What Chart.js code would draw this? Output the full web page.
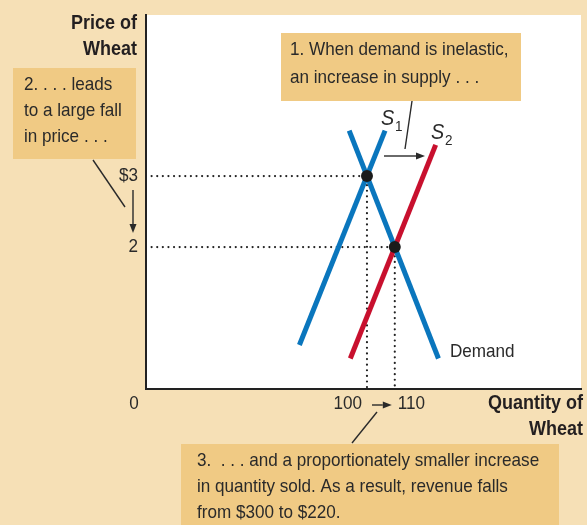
<!DOCTYPE html>
<html><head><meta charset="utf-8">
<script src="https://cdn.jsdelivr.net/npm/chart.js@4"></script>
<style>html,body{margin:0;padding:0;background:#f6e0b6;}#wrap{width:587px;height:525px;position:relative}</style>
</head><body><div id="wrap"><canvas id="c" width="587" height="525"></canvas></div>
<script>
// ---- data ----
const supply1Qty = [75.7, 106.5];
const supply1Price = [0.62, 3.64];
const supply2Qty = [94.0, 124.7];
const supply2Price = [0.43, 3.44];
const demandQty = [93.6, 125.7];
const demandPrice = [3.64, 0.43];
const equilibriumQty = [100, 110];
const equilibriumPrice = [3, 2];
const qtyTicks = [100, 110];
const qtyTickLabels = ['100', '110'];
const priceTicks = [3, 2];
const priceTickLabels = ['$3', '2'];
const originLabel = '0';

const X_MIN = 20.54, X_MAX = 176.96, Y_MIN = 0, Y_MAX = 5.27;

const pts = (xs, ys) => xs.map((x, i) => ({x: x, y: ys[i]}));
const guide = (q, p) => [{x: X_MIN, y: p}, {x: q, y: p}, {x: q, y: Y_MIN}];

const BLUE = '#0a76bd', RED = '#c8102e', INK = '#2a2a2a';
const FONT = '"Liberation Sans", Arial, sans-serif';
const SX = 0.9;

function txt(ctx, s, x, y, size, align, bold, color) {
  ctx.save();
  ctx.font = (bold ? 'bold ' : '') + size + 'px ' + FONT;
  ctx.fillStyle = color || INK;
  ctx.textBaseline = 'middle';
  const w = ctx.measureText(s).width * SX;
  let x0 = x;
  if (align === 'right') x0 = x - w; else if (align === 'center') x0 = x - w / 2;
  ctx.translate(x0, y);
  ctx.scale(SX, 1);
  ctx.textAlign = 'left';
  ctx.fillText(s, 0, 0);
  ctx.restore();
}
function italicS(ctx, s, sub, x, y) {
  ctx.save();
  ctx.font = 'italic 22px ' + FONT;
  ctx.fillStyle = INK; ctx.textBaseline = 'middle';
  ctx.translate(x, y); ctx.scale(SX, 1);
  ctx.fillText(s, 0, 0);
  const w = ctx.measureText(s).width;
  ctx.font = '15px ' + FONT;
  ctx.fillText(sub, w + 1, 8);
  ctx.restore();
}
function line(ctx, x1, y1, x2, y2, w) {
  ctx.save(); ctx.strokeStyle = INK; ctx.lineWidth = w || 1.4;
  ctx.beginPath(); ctx.moveTo(x1, y1); ctx.lineTo(x2, y2); ctx.stroke(); ctx.restore();
}
function arrow(ctx, x1, y1, x2, y2) {
  const a = Math.atan2(y2 - y1, x2 - x1), L = 9, H = 3.5;
  const bx = x2 - L * Math.cos(a), by = y2 - L * Math.sin(a);
  line(ctx, x1, y1, bx, by, 1.4);
  ctx.save(); ctx.fillStyle = INK; ctx.beginPath();
  ctx.moveTo(x2, y2);
  ctx.lineTo(bx + H * Math.sin(a), by - H * Math.cos(a));
  ctx.lineTo(bx - H * Math.sin(a), by + H * Math.cos(a));
  ctx.closePath(); ctx.fill(); ctx.restore();
}
function box(ctx, x, y, w, h) {
  ctx.save(); ctx.fillStyle = '#f0ca84'; ctx.fillRect(x, y, w, h); ctx.restore();
}

const bgPlugin = {
  id: 'bg',
  beforeDraw(chart) {
    const {ctx, chartArea: a} = chart;
    ctx.save();
    ctx.fillStyle = '#f6e0b6'; ctx.fillRect(0, 0, chart.width, chart.height);
    ctx.fillStyle = '#ffffff'; ctx.fillRect(a.left, a.top, a.right - a.left, a.bottom - a.top);
    ctx.restore();
  },
  afterDraw(chart) {
    const {ctx, chartArea: a} = chart;
    const xs = chart.scales.x, ys = chart.scales.y;
    // axis titles
    txt(ctx, 'Price of', 137, 23, 20, 'right', true, '#231f20');
    txt(ctx, 'Wheat', 137, 49, 20, 'right', true, '#231f20');
    txt(ctx, 'Quantity of', 583, 403, 20, 'right', true, '#231f20');
    txt(ctx, 'Wheat', 583, 429, 20, 'right', true, '#231f20');
    // y tick labels
    priceTicks.forEach((p, i) => txt(ctx, priceTickLabels[i], a.left - 8, ys.getPixelForValue(p), 19, 'right'));
    // x tick labels
    const ty = a.bottom + 15;
    txt(ctx, originLabel, a.left - 12, ty, 19, 'center');
    const p0 = xs.getPixelForValue(qtyTicks[0]), p1 = xs.getPixelForValue(qtyTicks[1]);
    txt(ctx, qtyTickLabels[0], p0 - 5, ty, 19, 'right');
    txt(ctx, qtyTickLabels[1], p1 + 3, ty, 19, 'left');
    arrow(ctx, p0 + 5, ty + 1, p1 - 3, ty + 1);
    // y arrow between price ticks
    const y3 = ys.getPixelForValue(priceTicks[0]), y2 = ys.getPixelForValue(priceTicks[1]);
    arrow(ctx, a.left - 13, y3 + 14, a.left - 13, y2 - 14);
    // callout boxes
    box(ctx, 281, 33, 240, 68);
    txt(ctx, '1. When demand is inelastic,', 290, 50, 19, 'left');
    txt(ctx, 'an increase in supply . . .', 290, 78, 19, 'left');
    line(ctx, 412, 101, 405, 149);
    arrow(ctx, 384, 156, 425, 156);

    box(ctx, 13, 68, 123, 91);
    txt(ctx, '2. . . . leads', 24, 85, 19, 'left');
    txt(ctx, 'to a large fall', 24, 111, 19, 'left');
    txt(ctx, 'in price . . .', 24, 137, 19, 'left');
    line(ctx, 93, 160, 125, 207);

    box(ctx, 181, 444, 378, 81);
    txt(ctx, '3.  . . . and a proportionately smaller increase', 197, 461, 19, 'left');
    txt(ctx, 'in quantity sold. As a result, revenue falls', 197, 487, 19, 'left');
    txt(ctx, 'from $300 to $220.', 197, 513, 19, 'left');
    line(ctx, 377, 412, 352, 443);

    // curve labels
    italicS(ctx, 'S', '1', 381, 119);
    italicS(ctx, 'S', '2', 431, 133);
    txt(ctx, 'Demand', 450, 352, 19, 'left');
  }
};

const ctx = document.getElementById('c').getContext('2d');
new Chart(ctx, {
  type: 'scatter',
  data: {
    datasets: [
      {label: 'Equilibrium', data: pts(equilibriumQty, equilibriumPrice), pointRadius: 6, pointBackgroundColor: '#1b1b1b', pointBorderWidth: 0, showLine: false},
      {label: 'S1', data: pts(supply1Qty, supply1Price), showLine: true, borderColor: BLUE, borderWidth: 5, pointRadius: 0, borderCapStyle: 'butt'},
      {label: 'Demand', data: pts(demandQty, demandPrice), showLine: true, borderColor: BLUE, borderWidth: 5, pointRadius: 0, borderCapStyle: 'butt'},
      {label: 'S2', data: pts(supply2Qty, supply2Price), showLine: true, borderColor: RED, borderWidth: 5, pointRadius: 0, borderCapStyle: 'butt'},
      {label: 'g1', data: guide(equilibriumQty[0], equilibriumPrice[0]), showLine: true, borderColor: '#222', borderWidth: 2.2, borderDash: [0.01, 5.6], borderCapStyle: 'round', pointRadius: 0},
      {label: 'g2', data: guide(equilibriumQty[1], equilibriumPrice[1]), showLine: true, borderColor: '#222', borderWidth: 2.2, borderDash: [0.01, 5.6], borderCapStyle: 'round', pointRadius: 0}
    ]
  },
  options: {
    responsive: false, animation: false, devicePixelRatio: 1,
    layout: {padding: {left: 146, top: 15, right: 3, bottom: 136}},
    plugins: {legend: {display: false}, tooltip: {enabled: false}},
    scales: {
      x: {type: 'linear', min: X_MIN, max: X_MAX,
          ticks: {display: false}, grid: {display: false, drawTicks: false},
          border: {display: true, color: '#222', width: 2},
          afterFit(s) { s.height = 0; }},
      y: {type: 'linear', min: Y_MIN, max: Y_MAX,
          ticks: {display: false}, grid: {display: false, drawTicks: false},
          border: {display: true, color: '#222', width: 2},
          afterFit(s) { s.width = 0; }}
    }
  },
  plugins: [bgPlugin]
});
</script></body></html>
